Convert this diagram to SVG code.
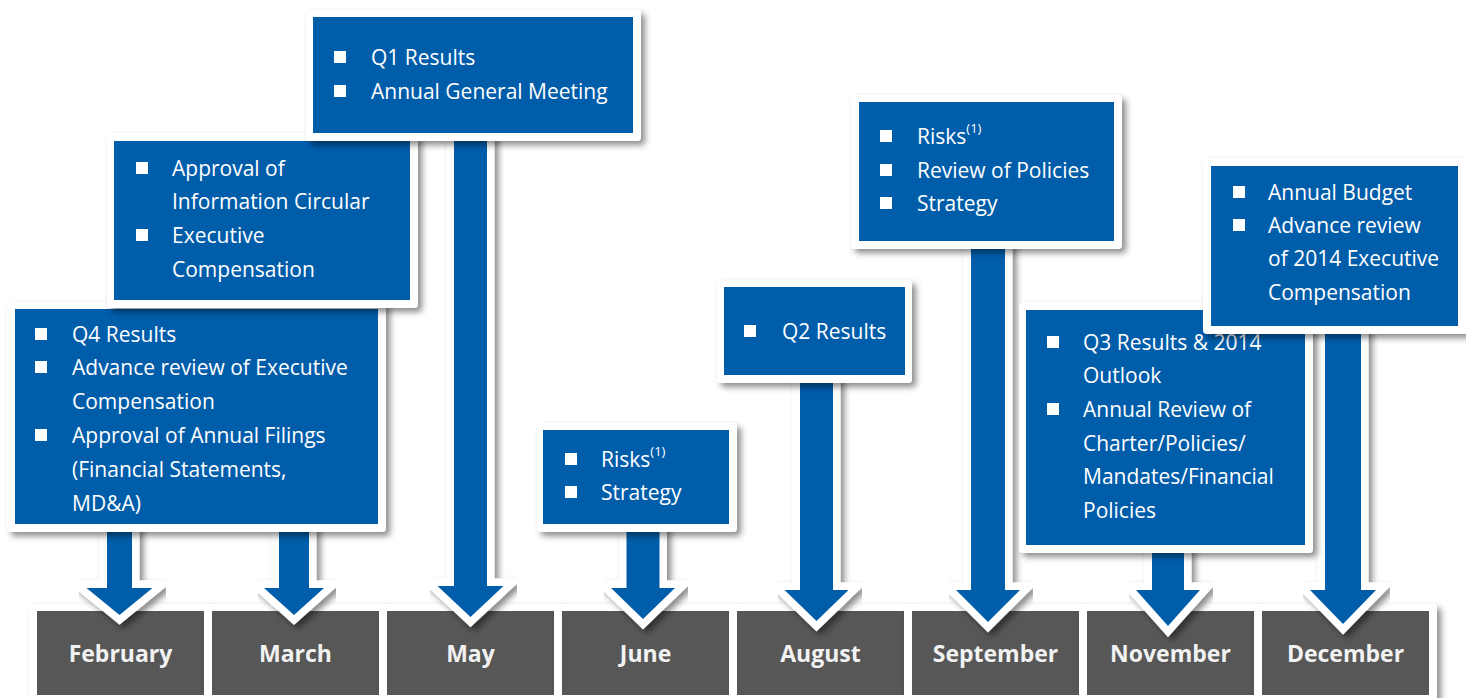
<svg xmlns="http://www.w3.org/2000/svg" width="1466" height="698" viewBox="0 0 1466 698">
  <defs>
    <filter id="sh" x="-10%" y="-10%" width="130%" height="130%">
      <feDropShadow dx="4" dy="4" stdDeviation="3" flood-color="#000" flood-opacity="0.45"/>
    </filter>
    <style>
      .card { fill: #ffffff; filter: url(#sh); }
      .panel { fill: #005DAA; }
      .month { fill: #575757; }
      .bul { fill: #ffffff; }
      .t { font-family: "Open Sans", "Noto Sans", sans-serif; font-size: 21px; fill: #ffffff; }
      .sup { font-size: 13px; }
      .m { font-family: "Open Sans", "Noto Sans", sans-serif; font-weight: 700; font-size: 23px; fill: #F2F2F2; text-anchor: middle; }
      .arrow { fill: #005DAA; stroke: #ffffff; stroke-width: 15; paint-order: stroke; stroke-linejoin: miter; stroke-miterlimit: 10; filter: url(#sh); }
    </style>
  </defs>
  <rect width="1466" height="698" fill="#ffffff"/>

  <!-- month timeline -->
  <g id="months">
    <g id="m-feb"><rect class="card" x="29" y="604" width="183" height="100" rx="4"/><rect class="month" x="37" y="611" width="167" height="84"/><text class="m" x="120.5" y="662">February</text></g>
    <g id="m-mar"><rect class="card" x="204" y="604" width="183" height="100" rx="4"/><rect class="month" x="212" y="611" width="167" height="84"/><text class="m" x="295.5" y="662">March</text></g>
    <g id="m-may"><rect class="card" x="379" y="604" width="183" height="100" rx="4"/><rect class="month" x="387" y="611" width="167" height="84"/><text class="m" x="470.5" y="662">May</text></g>
    <g id="m-jun"><rect class="card" x="554" y="604" width="183" height="100" rx="4"/><rect class="month" x="562" y="611" width="167" height="84"/><text class="m" x="645.5" y="662">June</text></g>
    <g id="m-aug"><rect class="card" x="729" y="604" width="183" height="100" rx="4"/><rect class="month" x="737" y="611" width="167" height="84"/><text class="m" x="820.5" y="662">August</text></g>
    <g id="m-sep"><rect class="card" x="904" y="604" width="183" height="100" rx="4"/><rect class="month" x="912" y="611" width="167" height="84"/><text class="m" x="995.5" y="662">September</text></g>
    <g id="m-nov"><rect class="card" x="1079" y="604" width="183" height="100" rx="4"/><rect class="month" x="1087" y="611" width="167" height="84"/><text class="m" x="1170.5" y="662">November</text></g>
    <g id="m-dec"><rect class="card" x="1254" y="604" width="183" height="100" rx="4"/><rect class="month" x="1262" y="611" width="167" height="84"/><text class="m" x="1345.5" y="662">December</text></g>
  </g>

  <!-- block arrows from each callout down to its month -->
  <g id="connectors">
    <polygon class="arrow" points="107,515 132,515 132,588 152.5,588 119.5,615 86.5,588 107,588"/>
    <polygon class="arrow" points="279,515 309,515 309,588 324,588 294,615 264,588 279,588"/>
    <polygon class="arrow" points="454,125 487,125 487,586 503.5,586 470.5,617 437.5,586 454,586"/>
    <polygon class="arrow" points="626.5,515 659.5,515 659.5,588 675,588 643,619 611,588 626.5,588"/>
    <polygon class="arrow" points="800,365 833,365 833,590 848.5,590 816.5,621 784.5,590 800,590"/>
    <polygon class="arrow" points="971,235 1005,235 1005,590 1020,590 988,622 956,590 971,590"/>
    <polygon class="arrow" points="1152,535 1184,535 1184,590 1200,590 1168,626 1136,590 1152,590"/>
    <polygon class="arrow" points="1325,320 1361,320 1361,590 1376,590 1343,624 1310,590 1325,590"/>
  </g>

  <!-- February callout -->
  <g id="n-feb">
    <rect class="card" x="7" y="302" width="379" height="230" rx="4"/>
    <rect class="panel" x="15" y="309" width="363" height="215"/>
    <rect class="bul" x="35" y="328" width="12" height="12"/>
    <rect class="bul" x="35" y="361" width="12" height="12"/>
    <rect class="bul" x="35" y="429" width="12" height="12"/>
    <text class="t" x="72" y="341.5">Q4 Results</text>
    <text class="t"><tspan x="72" y="375">Advance review of Executive</tspan><tspan x="72" y="409">Compensation</tspan></text>
    <text class="t"><tspan x="72" y="443">Approval of Annual Filings</tspan><tspan x="72" y="476.5">(Financial Statements,</tspan><tspan x="72" y="510.5">MD&amp;A)</tspan></text>
  </g>

  <!-- March callout -->
  <g id="n-mar">
    <rect class="card" x="107" y="133" width="311" height="175" rx="4"/>
    <rect class="panel" x="114" y="141" width="296" height="159"/>
    <rect class="bul" x="136" y="162" width="12" height="12"/>
    <rect class="bul" x="136" y="229" width="12" height="12"/>
    <text class="t"><tspan x="172" y="175.5">Approval of</tspan><tspan x="172" y="209">Information Circular</tspan></text>
    <text class="t"><tspan x="172" y="243">Executive</tspan><tspan x="172" y="276.5">Compensation</tspan></text>
  </g>

  <!-- May callout -->
  <g id="n-may">
    <rect class="card" x="306" y="10" width="335" height="131" rx="4"/>
    <rect class="panel" x="313" y="17" width="320" height="116"/>
    <rect class="bul" x="334" y="51" width="12" height="12"/>
    <rect class="bul" x="334" y="85" width="12" height="12"/>
    <text class="t" x="371" y="64.5">Q1 Results</text>
    <text class="t" x="371" y="98.5">Annual General Meeting</text>
  </g>

  <!-- June callout -->
  <g id="n-jun">
    <rect class="card" x="537" y="423" width="200" height="109" rx="4"/>
    <rect class="panel" x="543" y="430" width="186" height="94"/>
    <rect class="bul" x="565" y="453" width="12" height="12"/>
    <rect class="bul" x="565" y="486" width="12" height="12"/>
    <text class="t" x="601" y="466.5">Risks<tspan class="sup" dy="-11">(1)</tspan></text>
    <text class="t" x="601" y="500">Strategy</text>
  </g>

  <!-- August callout -->
  <g id="n-aug">
    <rect class="card" x="717" y="280" width="195" height="103" rx="4"/>
    <rect class="panel" x="724" y="287" width="181" height="88"/>
    <rect class="bul" x="744" y="325" width="12" height="12"/>
    <text class="t" x="782" y="338.5">Q2 Results</text>
  </g>

  <!-- September callout -->
  <g id="n-sep">
    <rect class="card" x="851" y="95" width="271" height="154" rx="4"/>
    <rect class="panel" x="859" y="102" width="255" height="139"/>
    <rect class="bul" x="880" y="130" width="12" height="12"/>
    <rect class="bul" x="880" y="164" width="12" height="12"/>
    <rect class="bul" x="880" y="197" width="12" height="12"/>
    <text class="t" x="917" y="144">Risks<tspan class="sup" dy="-11">(1)</tspan></text>
    <text class="t" x="917" y="177.5">Review of Policies</text>
    <text class="t" x="917" y="211">Strategy</text>
  </g>

  <!-- November callout -->
  <g id="n-nov">
    <rect class="card" x="1019" y="302" width="294" height="251" rx="4"/>
    <rect class="panel" x="1026" y="310" width="279" height="235"/>
    <rect class="bul" x="1047" y="336" width="12" height="12"/>
    <rect class="bul" x="1047" y="403" width="12" height="12"/>
    <text class="t"><tspan x="1083" y="350">Q3 Results &amp; 2014</tspan><tspan x="1083" y="383">Outlook</tspan></text>
    <text class="t"><tspan x="1083" y="417">Annual Review of</tspan><tspan x="1083" y="450.5">Charter/Policies/</tspan><tspan x="1083" y="484">Mandates/Financial</tspan><tspan x="1083" y="517.5">Policies</tspan></text>
  </g>

  <!-- December callout -->
  <g id="n-dec">
    <rect class="card" x="1203" y="158" width="268" height="176" rx="4"/>
    <rect class="panel" x="1211" y="166" width="247" height="160"/>
    <rect class="bul" x="1233" y="186" width="12" height="12"/>
    <rect class="bul" x="1233" y="219" width="12" height="12"/>
    <text class="t" x="1268" y="199.5">Annual Budget</text>
    <text class="t"><tspan x="1268" y="232.5">Advance review</tspan><tspan x="1268" y="266">of 2014 Executive</tspan><tspan x="1268" y="300">Compensation</tspan></text>
  </g>
</svg>
